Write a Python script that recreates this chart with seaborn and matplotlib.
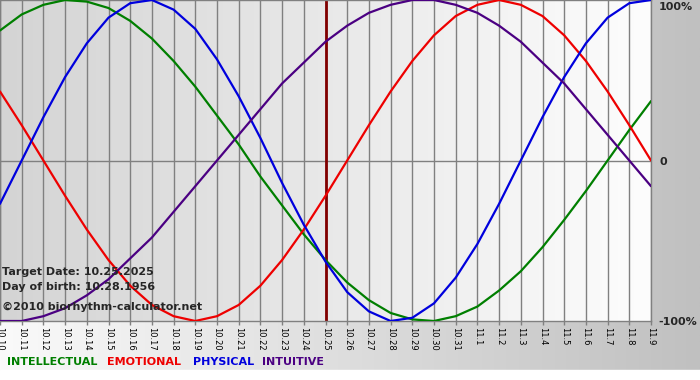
import numpy as np
import pandas as pd
import seaborn as sns
import matplotlib.pyplot as plt

# Dates shown on the x axis (10.10.2025 -> 11.9.2025)
date_labels = ['10.10', '10.11', '10.12', '10.13', '10.14', '10.15', '10.16', '10.17',
               '10.18', '10.19', '10.20', '10.21', '10.22', '10.23', '10.24', '10.25',
               '10.26', '10.27', '10.28', '10.29', '10.30', '10.31', '11.1', '11.2',
               '11.3', '11.4', '11.5', '11.6', '11.7', '11.8', '11.9']

# Cycle values (-1 = -100%, 1 = 100%)
intellectual = [0.81, 0.91, 0.97, 1.00, 0.99, 0.95, 0.87, 0.76, 0.62, 0.46, 0.28,
                0.10, -0.10, -0.28, -0.46, -0.62, -0.76, -0.87, -0.95, -0.99, -1.00,
                -0.97, -0.91, -0.81, -0.69, -0.54, -0.37, -0.19, 0.00, 0.19, 0.37]
emotional = [0.43, 0.22, 0.00, -0.22, -0.43, -0.62, -0.78, -0.90, -0.97, -1.00, -0.97,
             -0.90, -0.78, -0.62, -0.43, -0.22, 0.00, 0.22, 0.43, 0.62, 0.78,
             0.90, 0.97, 1.00, 0.97, 0.90, 0.78, 0.62, 0.43, 0.22, 0.00]
physical = [-0.27, 0.00, 0.27, 0.52, 0.73, 0.89, 0.98, 1.00, 0.94, 0.82, 0.63,
            0.40, 0.14, -0.14, -0.40, -0.63, -0.82, -0.94, -1.00, -0.98, -0.89,
            -0.73, -0.52, -0.27, 0.00, 0.27, 0.52, 0.73, 0.89, 0.98, 1.00]
intuitive = [-1.00, -1.00, -0.97, -0.92, -0.84, -0.74, -0.61, -0.48, -0.32, -0.16, 0.00,
             0.16, 0.32, 0.48, 0.61, 0.74, 0.84, 0.92, 0.97, 1.00, 1.00,
             0.97, 0.92, 0.84, 0.74, 0.61, 0.48, 0.32, 0.16, 0.00, -0.16]

target_label = '10.25'
series_names = ['INTELLECTUAL', 'EMOTIONAL', 'PHYSICAL', 'INTUITIVE']
colors = {'INTELLECTUAL': '#007f00', 'EMOTIONAL': '#ee0000',
          'PHYSICAL': '#0000dd', 'INTUITIVE': '#4b0082'}

day = np.arange(len(date_labels))
df = pd.concat([
    pd.DataFrame({'day': day, 'value': vals, 'cycle': name})
    for name, vals in zip(series_names, [intellectual, emotional, physical, intuitive])
])

sns.set_theme(style='white')
plt.rcParams['font.family'] = ['DejaVu Sans']

fig = plt.figure(figsize=(7, 3.8), dpi=100)

# figure background: light -> grey gradient, white band at the very bottom
bg = fig.add_axes([0, 0, 1, 1], zorder=-5)
bg.imshow(np.linspace(0, 1, 256)[None, :], cmap=plt.matplotlib.colors.LinearSegmentedColormap.from_list(
    'bg', ['#fafafa', '#c0c0c0']), aspect='auto', extent=[0, 1, 0, 1])
bg.axhspan(0, 10 / 380, color='white')
bg.set_xlim(0, 1)
bg.set_ylim(0, 1)
bg.axis('off')

ax = fig.add_axes([0, 59 / 380, 651 / 700, 321 / 380])
ax.imshow(np.linspace(0, 1, 256)[None, :], cmap=plt.matplotlib.colors.LinearSegmentedColormap.from_list(
    'plot', ['#d4d4d4', '#fdfdfd']), aspect='auto', extent=[0, len(day) - 1, -1, 1], zorder=0)

for d in day:
    ax.axvline(d, color='#808080', lw=1, zorder=1)
ax.axhline(0, color='#808080', lw=1, zorder=1)

sns.lineplot(data=df, x='day', y='value', hue='cycle', palette=colors,
             lw=1.6, legend=False, ax=ax, zorder=3)

ax.axvline(date_labels.index(target_label), color='#800000', lw=2, zorder=2)

ax.set_xlim(0, len(day) - 1)
ax.set_ylim(-1, 1)
ax.set_xticks(day)
ax.set_xticklabels(date_labels, rotation=270, fontsize=6, color='black')
ax.set_yticks([])
ax.tick_params(axis='x', bottom=True, length=3, width=1, color='#808080', pad=1)
ax.set_xlabel('')
ax.set_ylabel('')
for s in ax.spines.values():
    s.set_color('#808080')
    s.set_linewidth(1)

# info text inside the chart
fig.text(2 / 700, 1 - 272 / 380, 'Target Date: 10.25.2025', fontsize=8, fontweight='bold', va='center')
fig.text(2 / 700, 1 - 287 / 380, 'Day of birth: 10.28.1956', fontsize=8, fontweight='bold', va='center')
fig.text(2 / 700, 1 - 307 / 380, '\u00a92010 biorhythm-calculator.net', fontsize=8, fontweight='bold', va='center')

# scale labels on the right
fig.text(659 / 700, 1 - 7 / 380, '100%', fontsize=8, fontweight='bold', va='center')
fig.text(660 / 700, 1 - 162 / 380, '0', fontsize=8, fontweight='bold', va='center')
fig.text(658 / 700, 1 - 322 / 380, '-100%', fontsize=8, fontweight='bold', va='center')

# coloured legend
for name, xpos in zip(series_names, [7, 107, 193, 262]):
    fig.text(xpos / 700, 1 - 362 / 380, name, fontsize=8, fontweight='bold',
             color=colors[name], va='center')

plt.savefig('out.png', dpi=100)
